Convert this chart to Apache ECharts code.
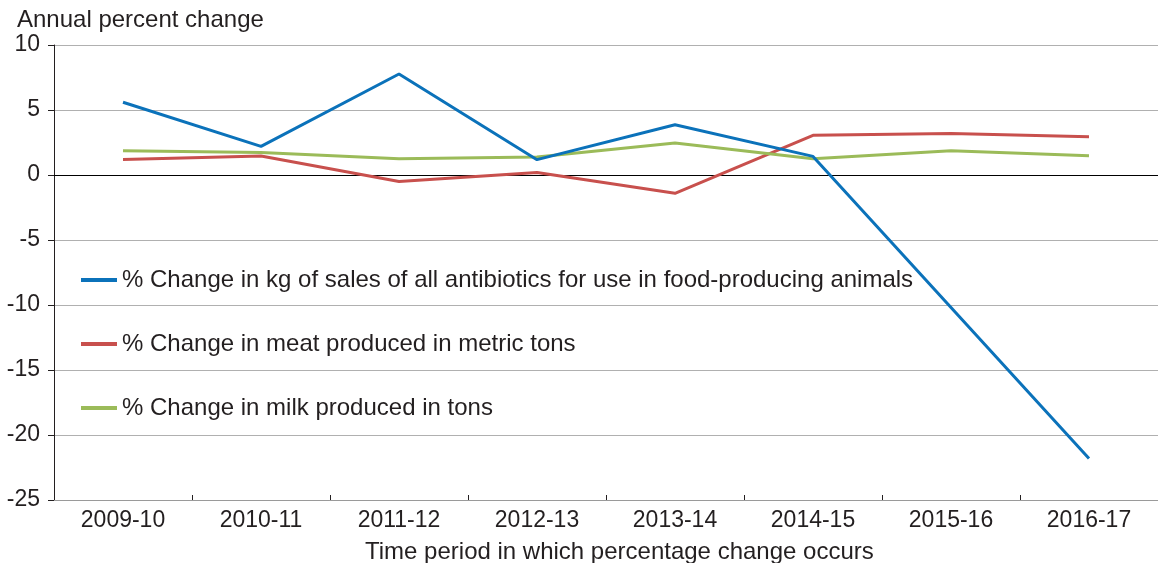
<!DOCTYPE html>
<html><head><meta charset="utf-8">
<script src="https://cdn.jsdelivr.net/npm/echarts@6/dist/echarts.min.js"></script>
<style>html,body{margin:0;padding:0;background:#fff}#c{width:1158px;height:563px}</style>
</head><body><div id="c"></div>
<script>
const categories = ['2009-10','2010-11','2011-12','2012-13','2013-14','2014-15','2015-16','2016-17'];
const antibiotics = [5.6, 2.2, 7.77, 1.18, 3.87, 1.43, -10.2, -21.8];
const meat = [1.2, 1.46, -0.5, 0.2, -1.41, 3.05, 3.2, 2.95];
const milk = [1.87, 1.74, 1.25, 1.38, 2.46, 1.25, 1.87, 1.48];
const seriesNames = [
  '% Change in kg of sales of all antibiotics for use in food-producing animals',
  '% Change in meat produced in metric tons',
  '% Change in milk produced in tons'
];
const colors = ['#0B72BA', '#C8504D', '#9BBB59'];
const font = 'Liberation Sans, Arial, Helvetica, sans-serif';
const chart = echarts.init(document.getElementById('c'), null, {renderer:'canvas'});
function line(name, data, color, extra){
  return Object.assign({
    name, type:'line', data, symbol:'none', smooth:false,
    lineStyle:{color, width:3}, itemStyle:{color}, z:3
  }, extra||{});
}
chart.setOption({
  animation:false,
  textStyle:{fontFamily:font},
  grid:{left:54, right:-10, top:45, bottom:63, containLabel:false},
  legend:{
    orient:'vertical', left:76, top:263, itemGap:40, itemWidth:36, itemHeight:4,
    icon:'rect',
    textStyle:{fontSize:24, color:'#231f20', fontFamily:font},
    data:seriesNames
  },
  xAxis:{
    type:'category', data:categories, boundaryGap:true,
    axisLine:{show:true, onZero:false, lineStyle:{color:'#9a9a9a', width:1}},
    axisTick:{show:true, inside:true, length:5, lineStyle:{color:'#231f20'}},
    axisLabel:{fontSize:23, color:'#231f20', margin:9, fontFamily:font},
    splitLine:{show:false}
  },
  yAxis:{
    type:'value', min:-25, max:10, interval:5,
    axisLine:{show:true, lineStyle:{color:'#231f20', width:1}},
    axisTick:{show:true, length:6, lineStyle:{color:'#231f20'}},
    axisLabel:{fontSize:23, color:'#231f20', margin:14, fontFamily:font},
    splitLine:{show:true, lineStyle:{color:'#b0b0b0', width:1}}
  },
  graphic:[
    {type:'text', left:17, top:8, style:{text:'Annual percent change', font:'24px '+font, fill:'#231f20'}},
    {type:'text', left:365, top:540, style:{text:'Time period in which percentage change occurs', font:'24px '+font, fill:'#231f20'}}
  ],
  series:[
    line(seriesNames[0], antibiotics, colors[0], {z:4}),
    line(seriesNames[1], meat, colors[1], {markLine:{silent:true, symbol:'none', label:{show:false},
      lineStyle:{color:'#000', width:1, type:'solid'}, data:[{yAxis:0}], z:2}}),
    line(seriesNames[2], milk, colors[2])
  ]
});
</script></body></html>
